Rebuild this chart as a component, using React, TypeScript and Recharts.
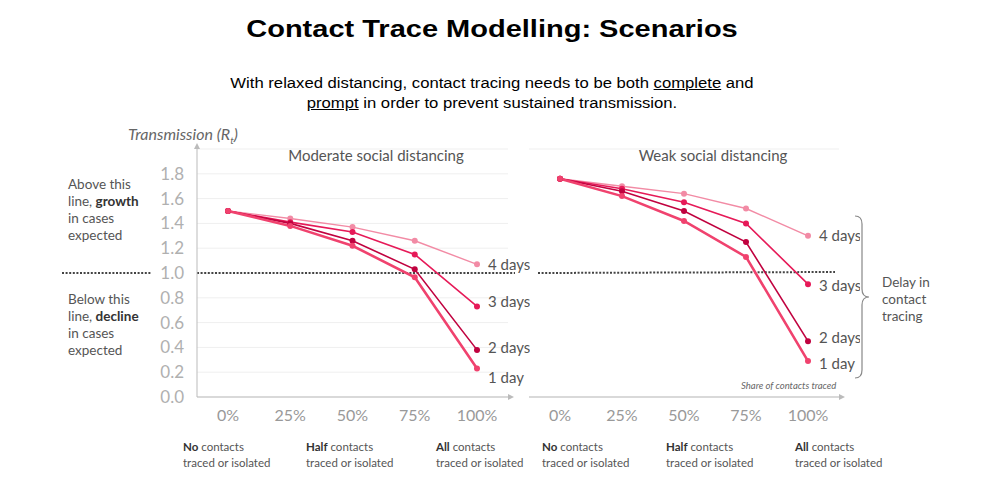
import React from 'react';
import { LineChart, Line, XAxis, YAxis, CartesianGrid, ReferenceLine, LabelList } from 'recharts';

const categories = ['0%', '25%', '50%', '75%', '100%'];
const yTicks = [0, 0.2, 0.4, 0.6, 0.8, 1.0, 1.2, 1.4, 1.6, 1.8];

const moderate1Day = [1.5, 1.38, 1.22, 0.965, 0.23];
const moderate2Days = [1.5, 1.4, 1.26, 1.03, 0.38];
const moderate3Days = [1.5, 1.41, 1.33, 1.15, 0.73];
const moderate4Days = [1.5, 1.44, 1.37, 1.26, 1.07];

const weak1Day = [1.76, 1.62, 1.42, 1.13, 0.29];
const weak2Days = [1.76, 1.66, 1.5, 1.25, 0.45];
const weak3Days = [1.76, 1.68, 1.57, 1.4, 0.91];
const weak4Days = [1.76, 1.7, 1.64, 1.52, 1.3];

const seriesNames = ['4 days', '3 days', '2 days', '1 day'];
const seriesKeys = ['d4', 'd3', 'd2', 'd1'];
const seriesColors = ['#F28BA5', '#E61A58', '#C0023F', '#F0426E'];
const seriesWidths = [1.4, 1.6, 1.6, 2.6];

const threshold = 1.0;

const buildRows = (d1: number[], d2: number[], d3: number[], d4: number[]) =>
  categories.map((c, i) => ({ pct: c, d1: d1[i], d2: d2[i], d3: d3[i], d4: d4[i] }));

const moderateRows = buildRows(moderate1Day, moderate2Days, moderate3Days, moderate4Days);
const weakRows = buildRows(weak1Day, weak2Days, weak3Days, weak4Days);

const FONT = 'Lato, "Open Sans", sans-serif';
const ARIAL = '"Liberation Sans", Arial, sans-serif';

const endLabel = (name: string, dy: number) => (props: any) => {
  const { x, y, index } = props;
  if (index !== categories.length - 1) return null;
  return (
    <text x={x + 11} y={y + dy} fill="#555" fontSize={15} fontFamily={FONT} dominantBaseline="central">
      {name}
    </text>
  );
};

const leftDotted = (props: any) => {
  const { x1, x2, y1 } = props;
  return (
    <g>
      <line x1={x1 - 135} x2={x1 - 45} y1={y1} y2={y1} stroke="#444" strokeWidth={2} strokeDasharray="2 1.6" />
      <line x1={x1} x2={x2 + 7} y1={y1} y2={y1} stroke="#444" strokeWidth={2} strokeDasharray="2 1.6" />
    </g>
  );
};

const rightDotted = (props: any) => {
  const { x1, x2, y1 } = props;
  return <line x1={x1 + 9} x2={x2 - 4} y1={y1} y2={y1 - 1} stroke="#444" strokeWidth={2} strokeDasharray="2 1.6" />;
};

const moderateLabelDy = [0, -5, -3, 9];
const weakLabelDy = [-1, 1, -4, 2];

const renderLines = (labelDy: number[]) =>
  seriesKeys.map((k, i) => (
    <Line
      key={k}
      type="linear"
      dataKey={k}
      name={seriesNames[i]}
      stroke={seriesColors[i]}
      strokeWidth={seriesWidths[i]}
      dot={{ r: 3, fill: seriesColors[i], stroke: 'none' }}
      activeDot={false}
      isAnimationActive={false}
    >
      <LabelList dataKey={k} content={endLabel(seriesNames[i], labelDy[i])} />
    </Line>
  ));

const tickFmt = (v: number) => v.toFixed(1);

const txt: React.CSSProperties = { position: 'absolute', fontFamily: FONT, color: '#555', whiteSpace: 'nowrap' };

const BottomLabel = ({ left, bold }: { left: number; bold: string }) => (
  <div style={{ ...txt, left, top: 439, fontSize: 11.5, lineHeight: '16px' }}>
    <b style={{ color: '#333' }}>{bold}</b> contacts
    <br />
    traced or isolated
  </div>
);

export default function App() {
  return (
    <div style={{ position: 'absolute', left: 0, top: 0, width: 984, height: 492, background: '#fff', overflow: 'hidden' }}>
      <svg width={0} height={0} style={{ position: 'absolute' }}>
        <defs>
          <marker id="arrowHead" viewBox="0 0 10 10" refX="0" refY="5" markerWidth="6" markerHeight="6" markerUnits="userSpaceOnUse" orient="auto-start-reverse">
            <path d="M0,0 L10,5 L0,10 z" fill="#bbb" />
          </marker>
        </defs>
      </svg>

      <div style={{ position: 'absolute', left: 0, width: 984, top: 15.5, textAlign: 'center', fontFamily: ARIAL, fontWeight: 'bold', fontSize: 23.5, lineHeight: '27px', color: '#000', transform: 'scaleX(1.234)', transformOrigin: '492px 0' }}>
        Contact Trace Modelling: Scenarios
      </div>
      <div style={{ position: 'absolute', left: 0, width: 984, top: 72.5, textAlign: 'center', fontFamily: ARIAL, fontSize: 14, lineHeight: '20px', color: '#000', transform: 'scaleX(1.19)', transformOrigin: '492px 0' }}>
        With relaxed distancing, contact tracing needs to be both <u>complete</u> and
        <br />
        <u>prompt</u> in order to prevent sustained transmission.
      </div>

      <div style={{ position: 'absolute', left: 0, top: 0 }}>
        <LineChart width={530} height={492} data={moderateRows} margin={{ top: 149, right: 22, bottom: 55, left: 157 }}>
          <CartesianGrid horizontal vertical={false} stroke="#efefef" />
          <XAxis
            dataKey="pct"
            padding={{ left: 31, right: 31 }}
            height={40}
            tickLine={false}
            tickSize={0}
            tickMargin={13}
            axisLine={{ stroke: '#bbb', markerEnd: 'url(#arrowHead)' }}
            tick={{ fill: '#999', fontSize: 16, fontFamily: FONT }}
          />
          <YAxis
            domain={[0, 2]}
            ticks={yTicks}
            interval={0}
            width={40}
            tickLine={false}
            tickSize={0}
            tickMargin={13}
            tickFormatter={tickFmt}
            axisLine={{ stroke: '#bbb', markerStart: 'url(#arrowHead)' }}
            tick={{ fill: '#b0b0b0', fontSize: 17, fontFamily: FONT }}
          />
          <ReferenceLine y={threshold} shape={leftDotted} />
          {renderLines(moderateLabelDy)}
        </LineChart>
      </div>

      <div style={{ position: 'absolute', left: 520, top: 0 }}>
        <LineChart width={340} height={492} data={weakRows} margin={{ top: 149, right: 21, bottom: 55, left: 9 }}>
          <CartesianGrid horizontal vertical={false} stroke="#efefef" />
          <XAxis
            dataKey="pct"
            padding={{ left: 31, right: 31 }}
            height={40}
            tickLine={false}
            tickSize={0}
            tickMargin={13}
            axisLine={{ stroke: '#bbb', markerEnd: 'url(#arrowHead)' }}
            tick={{ fill: '#999', fontSize: 16, fontFamily: FONT }}
          />
          <YAxis domain={[0, 2]} ticks={yTicks} interval={0} width={0} tick={false} tickLine={false} axisLine={false} />
          <ReferenceLine y={threshold} shape={rightDotted} />
          {renderLines(weakLabelDy)}
        </LineChart>
      </div>

      <div style={{ ...txt, left: 128, top: 124, fontSize: 16, fontStyle: 'italic', color: '#666' }}>
        Transmission (R<sub style={{ fontSize: 10 }}>t</sub>)
      </div>
      <div style={{ ...txt, left: 196, width: 360, top: 146, fontSize: 15, textAlign: 'center' }}>Moderate social distancing</div>
      <div style={{ ...txt, left: 533, width: 360, top: 146, fontSize: 15, textAlign: 'center' }}>Weak social distancing</div>

      <div style={{ ...txt, left: 68, top: 176, fontSize: 13.5, lineHeight: '17px' }}>
        Above this
        <br />
        line, <b style={{ color: '#333' }}>growth</b>
        <br />
        in cases
        <br />
        expected
      </div>
      <div style={{ ...txt, left: 68, top: 291, fontSize: 13.5, lineHeight: '17px' }}>
        Below this
        <br />
        line, <b style={{ color: '#333' }}>decline</b>
        <br />
        in cases
        <br />
        expected
      </div>

      <svg width={984} height={492} style={{ position: 'absolute', left: 0, top: 0, pointerEvents: 'none' }}>
        <path
          d="M855,216 Q862,216 862,224 L862,289 Q862,297 869,297 Q862,297 862,305 L862,370 Q862,378 855,378"
          fill="none"
          stroke="#888"
          strokeWidth={1.2}
        />
      </svg>
      <div style={{ ...txt, left: 882, top: 274, fontSize: 13.5, lineHeight: '17px' }}>
        Delay in
        <br />
        contact
        <br />
        tracing
      </div>
      <div style={{ ...txt, left: 741, top: 380, fontSize: 9.5, fontStyle: 'italic', color: '#666' }}>Share of contacts traced</div>

      <BottomLabel left={183} bold="No" />
      <BottomLabel left={306} bold="Half" />
      <BottomLabel left={436} bold="All" />
      <BottomLabel left={542} bold="No" />
      <BottomLabel left={666} bold="Half" />
      <BottomLabel left={795} bold="All" />
    </div>
  );
}
